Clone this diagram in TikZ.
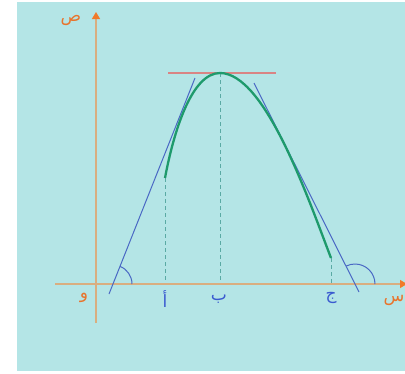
\documentclass[tikz,border=0pt]{standalone}
\usepackage{fontspec}
\newfontfamily\arabicfont[Script=Arabic]{DejaVu Sans}
\TeXXeTstate=1
\usetikzlibrary{arrows.meta}
\definecolor{bgc}{HTML}{B4E5E6}
\definecolor{axisc}{HTML}{D9AE80}
\definecolor{arrowc}{HTML}{F07A2A}
\definecolor{orlab}{HTML}{E8742C}
\definecolor{bluel}{HTML}{4A68C4}
\definecolor{bluelab}{HTML}{3A5AD0}
\definecolor{greenc}{HTML}{1E9A6C}
\definecolor{redc}{HTML}{D98484}
\definecolor{dashc}{HTML}{5AAAA4}
\tikzset{
  axisline/.style={draw=axisc, line width=1.3pt, -{Triangle[length=7pt,width=8pt,color=arrowc]}},
  tangentline/.style={draw=bluel, line width=1pt},
  anglearc/.style={draw=bluel, line width=1pt},
  curveline/.style={draw=greenc, line width=2.3pt},
  flatline/.style={draw=redc, line width=1.1pt},
  dropline/.style={draw=dashc, line width=0.7pt, dash pattern=on 4pt off 3pt},
  orlabel/.style={text=orlab, font=\fontsize{17}{20}\selectfont\arabicfont, inner sep=0pt},
  bllabel/.style={text=bluelab, font=\fontsize{17}{20}\selectfont\arabicfont, inner sep=0pt}
}
\begin{document}
\begin{tikzpicture}[x=1pt,y=-1pt]
\useasboundingbox (0,0) rectangle (405,373);
\fill[bgc] (17,2) rectangle (410,371);
% key points
\coordinate (O) at (96,284);
\coordinate (ybot) at (96,323);
\coordinate (ytop) at (96,12);
\coordinate (xleft) at (55,284);
\coordinate (xright) at (407,284);
\coordinate (A) at (165,178);
\coordinate (B) at (220,73);
\coordinate (C) at (331,258);
\coordinate (Ax) at (165,284);
\coordinate (Bx) at (220,284);
\coordinate (Cx) at (331,284);
\coordinate (L1) at (109,294);
\coordinate (L2) at (195,78);
\coordinate (Lx) at (113,284);
\coordinate (R1) at (254,83);
\coordinate (R2) at (359,292);
\coordinate (Rx) at (355,284);
\coordinate (H1) at (168,73);
\coordinate (H2) at (276,73);
% dashed drops
\draw[dropline] (A) -- (Ax);
\draw[dropline] (B) -- (Bx);
\draw[dropline] (C) -- (Cx);
% axes
\draw[axisline] (ybot) -- (ytop);
\draw[axisline] (xleft) -- (xright);
% tangents
\draw[tangentline] (L1) -- (L2);
\draw[tangentline] (R1) -- (R2);
\draw[flatline] (H1) -- (H2);
% angle arcs
\draw[anglearc] ([xshift=19pt]Lx) arc[start angle=0, end angle=68, radius=19pt];
\draw[anglearc] ([xshift=20pt]Rx) arc[start angle=0, end angle=116, radius=20pt];
% curve
\draw[curveline] (A) .. controls (174,130) and (192,73) .. (B)
                     .. controls (265,73) and (308,198) .. (C);
% labels
\node[orlabel] (lsad) at (71,20) {\beginR ص\endR};
\node[orlabel] (lwaw) at (84,298) {\beginR و\endR};
\node[orlabel] (lsin) at (394,300) {\beginR س\endR};
\node[bllabel] (lA) at (165,299) {\beginR أ\endR};
\node[bllabel] (lB) at (219,299) {\beginR ب\endR};
\node[bllabel] (lC) at (331,298) {\beginR ج\endR};
\end{tikzpicture}
\end{document}
